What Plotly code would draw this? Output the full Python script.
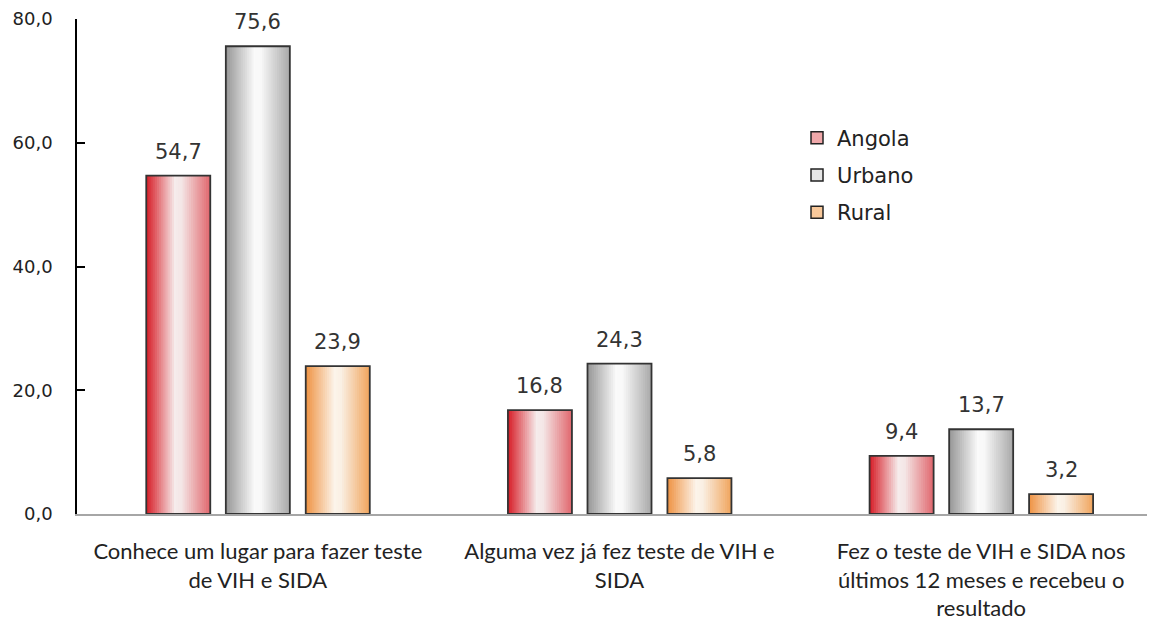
import plotly.graph_objects as go

categories = [
    "Conhece um lugar para fazer teste<br>de VIH e SIDA",
    "Alguma vez já fez teste de VIH e<br>SIDA",
    "Fez o teste de VIH e SIDA nos<br>últimos 12 meses e recebeu o<br>resultado",
]
series_names = ["Angola", "Urbano", "Rural"]
angola = [54.7, 16.8, 9.4]
urbano = [75.6, 24.3, 13.7]
rural = [23.9, 5.8, 3.2]
y_ticks = [0, 20, 40, 60, 80]

series_values = [angola, urbano, rural]
gradients = [
    [(0.0, (214, 28, 38)), (0.45, (246, 236, 236)), (0.55, (244, 230, 230)), (1.0, (224, 102, 108))],
    [(0.0, (150, 150, 150)), (0.45, (250, 250, 250)), (0.55, (248, 248, 248)), (1.0, (168, 168, 168))],
    [(0.0, (238, 146, 66)), (0.45, (252, 244, 234)), (0.55, (250, 240, 228)), (1.0, (240, 164, 92))],
]
legend_colors = ["#f0a8aa", "#e6e6e6", "#f8c89a"]


def interp(stops, t):
    for (t0, c0), (t1, c1) in zip(stops[:-1], stops[1:]):
        if t0 <= t <= t1:
            f = (t - t0) / (t1 - t0) if t1 > t0 else 0
            c = [round(a + (b - a) * f) for a, b in zip(c0, c1)]
            return f"rgb({c[0]},{c[1]},{c[2]})"
    c = stops[-1][1]
    return f"rgb({c[0]},{c[1]},{c[2]})"


bar_w = 0.177
centers = [-0.220, 0.0, 0.221]
N = 30
cat_px = 361.7

fig = go.Figure()
for s, (name, vals) in enumerate(zip(series_names, series_values)):
    left = centers[s] - bar_w / 2
    sw = bar_w / N
    for i in range(N):
        t = (i + 0.5) / N
        w = min(sw * 2.5, bar_w - i * sw)
        fig.add_trace(go.Bar(
            x=categories, y=vals, name=name,
            offset=left + i * sw, width=w,
            marker=dict(color=interp(gradients[s], t), line=dict(width=0)),
            showlegend=False, hoverinfo="skip",
        ))
    # outline
    fig.add_trace(go.Bar(
        x=categories, y=vals, name=name,
        offset=left, width=bar_w,
        marker=dict(color="rgba(0,0,0,0)", line=dict(color="#333333", width=1.8)),
        showlegend=False,
    ))
    # legend entry
    fig.add_trace(go.Bar(
        x=[categories[0]], y=[None], name=name, legendgroup=name,
        marker=dict(color=legend_colors[s], line=dict(color="#222222", width=1.5)),
        showlegend=True,
    ))
    for c, v in zip(categories, vals):
        fig.add_annotation(
            x=c, y=v, xref="x", yref="y",
            text=f"{v:.1f}".replace(".", ","),
            showarrow=False, xshift=centers[s] * cat_px, yshift=24,
            font=dict(family="DejaVu Sans", size=21, color="#333333"),
        )

fig.update_layout(
    width=1155, height=621,
    barmode="overlay",
    separators=",.",
    plot_bgcolor="white", paper_bgcolor="white",
    margin=dict(l=69, r=1, t=11, b=115, autoexpand=False),
    font=dict(family="DejaVu Sans", size=18, color="#222222"),
    legend=dict(
        x=0.6636, y=0.801, xanchor="left", yanchor="top",
        font=dict(family="DejaVu Sans", size=21, color="#222222"),
        tracegroupgap=7, bgcolor="rgba(0,0,0,0)",
    ),
    xaxis=dict(
        showline=True, linecolor="#a6a6a6", linewidth=1.5,
        ticks="", tickfont=dict(family="Lato", size=22, color="#222222"),
        ticklabelstandoff=17, showgrid=False, automargin=False,
        ticklabeloverflow="allow",
    ),
    yaxis=dict(
        range=[0, 80], tickvals=y_ticks, tickformat=".1f",
        showline=True, linecolor="#000000", linewidth=1.5,
        ticks="inside", ticklen=8, tickcolor="#000000", tickwidth=1.5,
        showgrid=False, zeroline=False, automargin=False,
        tickfont=dict(family="DejaVu Sans", size=18, color="#222222"),
        ticklabelstandoff=19, ticklabeloverflow="allow",
    ),
)

fig.write_html("out.html")
